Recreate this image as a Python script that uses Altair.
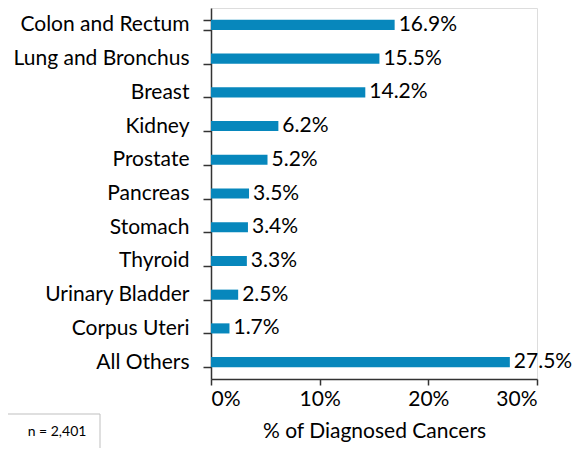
import altair as alt
import pandas as pd

categories = ["Colon and Rectum", "Lung and Bronchus", "Breast", "Kidney", "Prostate",
              "Pancreas", "Stomach", "Thyroid", "Urinary Bladder", "Corpus Uteri", "All Others"]
values = [16.9, 15.5, 14.2, 6.2, 5.2, 3.5, 3.4, 3.3, 2.5, 1.7, 27.5]
x_ticks = [0, 10, 20, 30]
note = "n = 2,401"

df = pd.DataFrame({"cat": categories, "val": values})
df["label"] = [f"{v:.1f}%" for v in values]

FONT = "Lato"
COLOR = "#0787BC"
FS = 21
AX = "#333333"

y_enc = alt.Y("cat:N", sort=categories, title=None,
              scale=alt.Scale(paddingInner=0.7, paddingOuter=0.35),
              axis=alt.Axis(labelFontSize=FS, labelFont=FONT, labelColor="#000000",
                            labelPadding=14, tickSize=8, tickColor=AX, tickWidth=1.5,
                            domainColor=AX, domainWidth=1.5, tickBand="extent"))
x_enc = alt.X("val:Q", title="% of Diagnosed Cancers",
              scale=alt.Scale(domain=[0, 30], nice=False),
              axis=alt.Axis(values=x_ticks, labelExpr="datum.value + '%'",
                            labelFontSize=FS, labelFont=FONT, labelColor="#000000",
                            titleFontSize=FS, titleFont=FONT, titleFontWeight="normal",
                            titleColor="#000000", titlePadding=11,
                            labelPadding=3, tickSize=6, tickColor=AX, tickWidth=1.5,
                            domainColor=AX, domainWidth=1.5, grid=False))

bars = alt.Chart(df).mark_bar(color=COLOR).encode(x=x_enc, y=y_enc)
labels = alt.Chart(df).mark_text(align="left", baseline="middle", dx=4, fontSize=FS,
                                 font=FONT, color="#000000").encode(
    x="val:Q", y=alt.Y("cat:N", sort=categories), text="label:N")

note_df = pd.DataFrame({"t": [note]})
box = alt.Chart(note_df).mark_rect(fill="white", stroke="#BFBFBF", strokeWidth=1).encode(
    x=alt.value(-215), x2=alt.value(-111), y=alt.value(406), y2=alt.value(441))
note_text = alt.Chart(note_df).mark_text(fontSize=14, font=FONT, color="#000000",
                                         align="center", baseline="middle").encode(
    x=alt.value(-154), y=alt.value(424), text="t:N")

chart = alt.layer(bars, labels, box, note_text).properties(
    width=326, height=371,
    autosize=alt.AutoSizeParams(type="none"),
    padding={"left": 203, "top": 0, "right": 36, "bottom": 69},
).configure_view(stroke=None).configure(background="white")

chart.save("out.html", embed_options={"renderer": "svg", "actions": False})
